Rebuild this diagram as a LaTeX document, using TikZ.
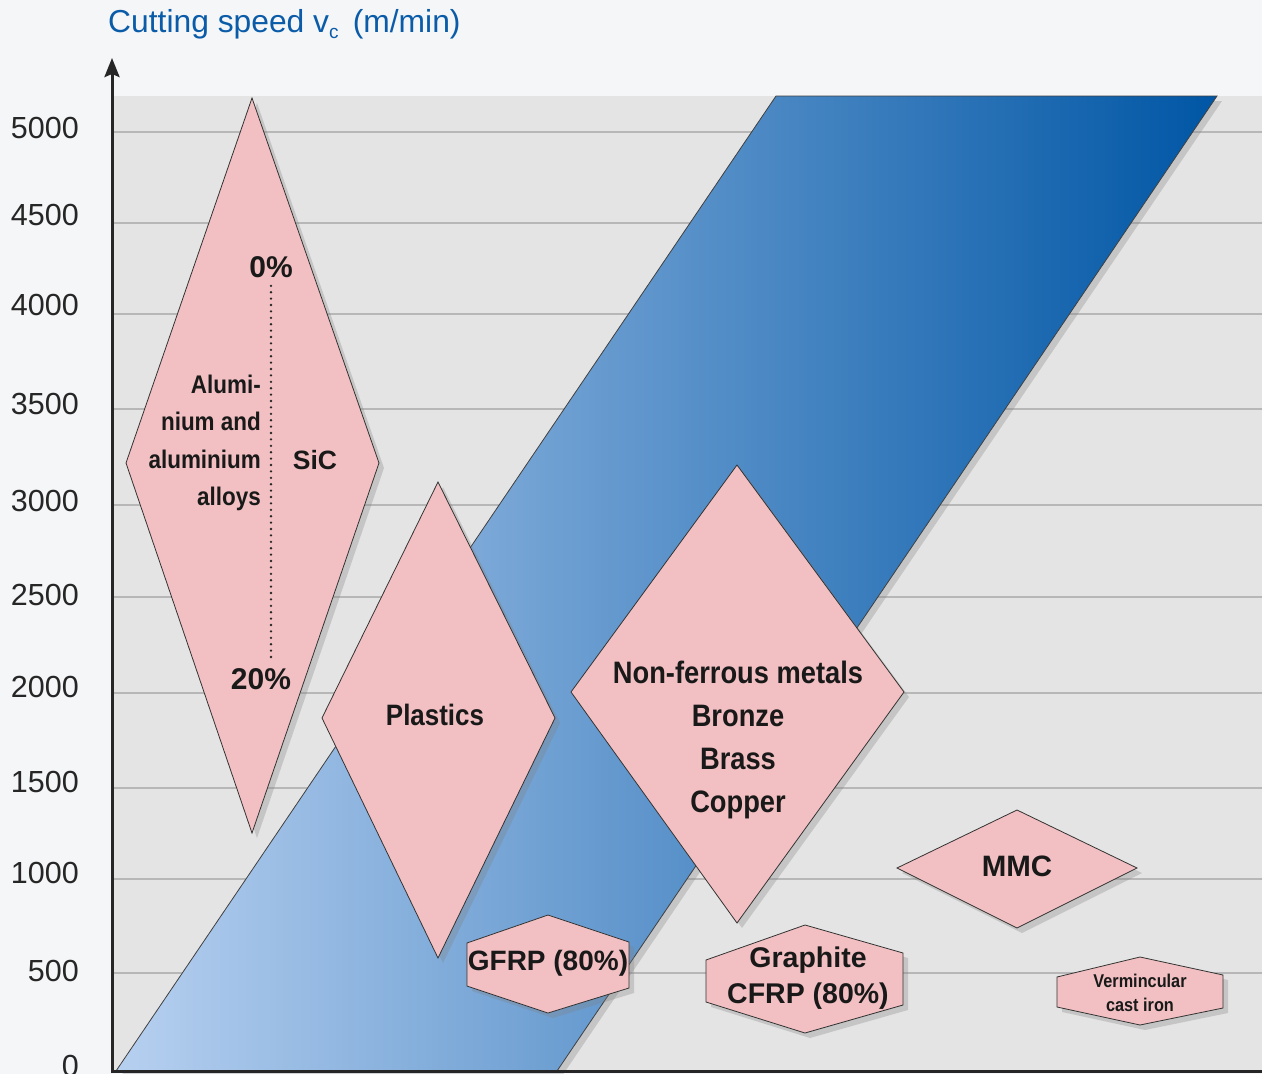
\documentclass[tikz,border=0pt]{standalone}
\usepackage{fontspec}
\setmainfont{Liberation Sans}
\newfontfamily\condfont[FakeStretch=0.88]{Liberation Sans}
\usepackage{xcolor}
\usepackage{tikz}
\usetikzlibrary{shapes,arrows.meta,positioning,calc,shadows}
\definecolor{pinkfill}{HTML}{F2C0C2}
\definecolor{titleblue}{HTML}{0B5CA8}
\definecolor{plotgray}{HTML}{E4E4E4}
\definecolor{gridgray}{HTML}{B7B7B7}
\definecolor{backwhite}{HTML}{F5F6F8}
\definecolor{lightblue}{HTML}{B7D0F0}
\definecolor{darkblue}{HTML}{0056A5}
\tikzstyle{region} = [draw=black!80, line width=0.8pt, fill=pinkfill, drop shadow={opacity=0.3, shadow xshift=5pt, shadow yshift=-5pt}]
\tikzstyle{band} = [draw=black!75, line width=0.8pt, left color=lightblue, right color=darkblue, drop shadow={opacity=0.3, shadow xshift=5pt, shadow yshift=-5pt}]
\tikzstyle{gridline} = [draw=gridgray, line width=2.5pt]
\tikzstyle{axis} = [draw=black!85, line width=3pt]
\tikzstyle{ticklabel} = [anchor=east, inner sep=0pt, text=black!85, font=\fontsize{30.5}{30.5}\selectfont]
\tikzstyle{matlabel} = [inner sep=0pt, align=center, text=black!90, font=\condfont\bfseries\fontsize{29.5}{43}\selectfont]
\tikzstyle{widelabel} = [matlabel, font=\bfseries\fontsize{28}{36}\selectfont]

\begin{document}
\begin{tikzpicture}[x=1pt, y=-1pt]
    \useasboundingbox (0,0) rectangle (1262,1074);
    \fill[backwhite] (0,0) rectangle (1262,1074);
    \fill[plotgray] (112,96) rectangle (1262,1071);
    \foreach \y in {132,223,314,409,505,597,693,788,879,973}
        \draw[gridline] (112,\y) -- (1262,\y);
    % speed band
    \path[band] (116,1071) -- (557,1071) -- (1217,96) -- (776,96) -- cycle;
    % axes
    \coordinate (origin) at (112,1071);
    \coordinate (ytop) at (112,58);
    \coordinate (xend) at (1262,1071);
    \draw[axis] (origin) -- (xend);
    \draw[axis, -{Stealth[length=19pt, width=15pt, inset=3pt]}] ([yshift=-2pt]origin) -- (ytop);
    \node[anchor=base west, inner sep=0pt, text=titleblue, font=\fontsize{31.8}{31.8}\selectfont] (title) at (108,32) {Cutting speed v\raisebox{-6pt}{\fontsize{19}{19}\selectfont c}\, (m/min)};
    \foreach \v/\y in {5000/128, 4500/215, 4000/305, 3500/404, 3000/501, 2500/595, 2000/687, 1500/782, 1000/873, 500/971, 0/1066}
        \node[ticklabel] (t\v) at (79,\y) {\v};
    % aluminium
    \path[region] (252,98) -- (379,463) -- (252,833) -- (126,463) -- cycle;
    \node[matlabel, align=right, anchor=east, font=\condfont\bfseries\fontsize{25.5}{37.6}\selectfont] (alu) at (261,443) {Alumi-\\nium and\\aluminium\\alloys};
    \node[widelabel, font=\bfseries\fontsize{26.5}{26.5}\selectfont] (sic) at (315,460) {SiC};
    \node[widelabel, font=\bfseries\fontsize{30}{30}\selectfont] (pct0) at (271,267) {0\%};
    \node[widelabel, font=\bfseries\fontsize{30}{30}\selectfont] (pct20) at (261,679) {20\%};
    \draw[black!85, line width=2.6pt, line cap=round, dash pattern=on 0pt off 6.4pt] ([yshift=-8pt]pct0.south) -- ([yshift=6pt]pct0.south |- pct20.north);
    % plastics
    \path[region] (438,482) -- (555,718) -- (438,958) -- (322,718) -- cycle;
    \node[matlabel] (plastics) at (435,715) {Plastics};
    % non-ferrous
    \path[region] (737,465) -- (904,692) -- (737,923) -- (571,692) -- cycle;
    \node[matlabel, font=\condfont\bfseries\fontsize{31}{43}\selectfont] (nonferrous) at (738,740) {Non-ferrous metals\\Bronze\\Brass\\Copper};
    % MMC
    \path[region] (1017,810) -- (1137,868) -- (1017,928) -- (897,868) -- cycle;
    \node[widelabel, font=\bfseries\fontsize{29.5}{29.5}\selectfont] (mmc) at (1017,866) {MMC};
    % GFRP
    \path[region] (548,915) -- (629,942) -- (629,988) -- (548,1013) -- (467,986) -- (467,943) -- cycle;
    \node[widelabel] (gfrp) at (548,963) {GFRP (80\%)};
    % graphite
    \path[region] (805,925) -- (903,953) -- (903,1005) -- (805,1033) -- (706,1002) -- (706,960) -- cycle;
    \node[widelabel, font=\bfseries\fontsize{28.5}{36}\selectfont] (cfrp) at (808,978) {Graphite\\CFRP (80\%)};
    % vermicular
    \path[region] (1140,957) -- (1223,975) -- (1223,1008) -- (1140,1025) -- (1057,1007) -- (1057,977) -- cycle;
    \node[matlabel, font=\condfont\bfseries\fontsize{18.5}{24}\selectfont] (verm) at (1140,993) {Vermincular\\cast iron};
\end{tikzpicture}
\end{document}
